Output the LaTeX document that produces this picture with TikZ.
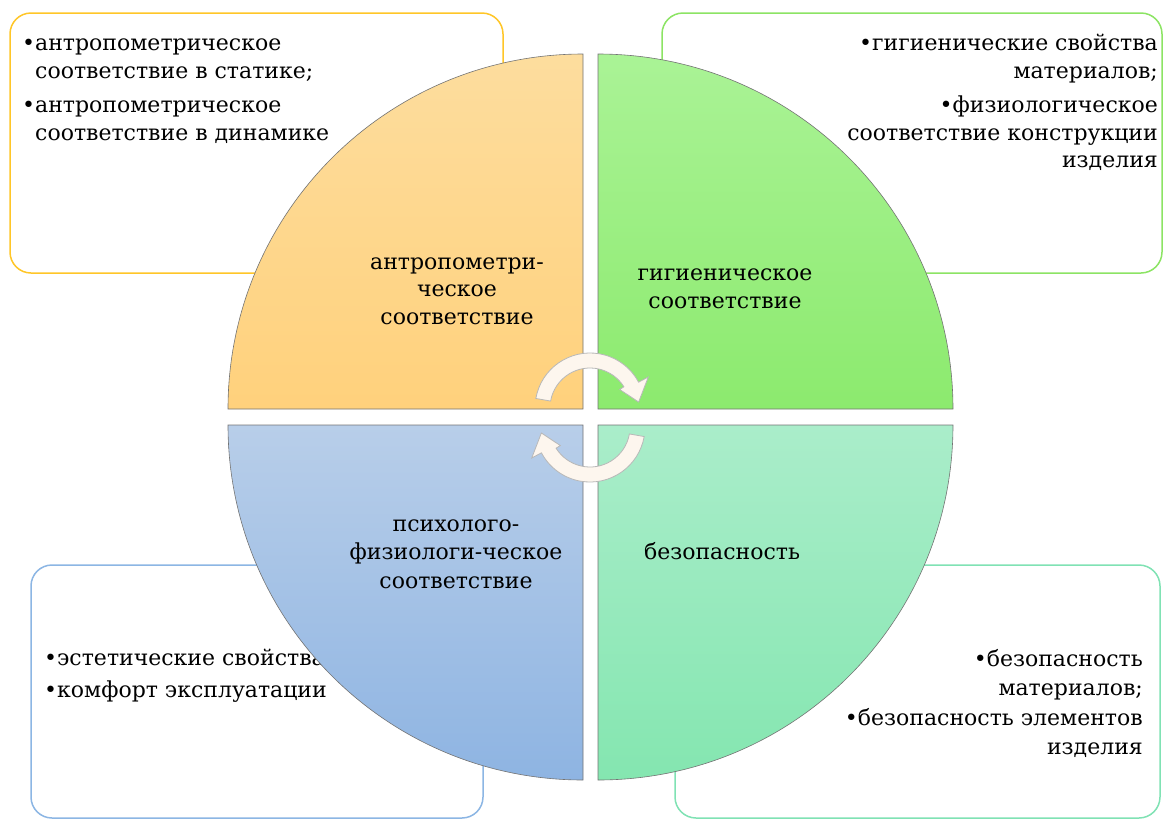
\documentclass[tikz,border=0pt]{standalone}
\usepackage{fontspec}
\setmainfont{DejaVu Serif}
\newfontfamily\ruserif{DejaVu Serif}
\definecolor{orT}{RGB}{253,221,158}
\definecolor{orB}{RGB}{255,209,124}
\definecolor{grT}{RGB}{170,243,150}
\definecolor{grB}{RGB}{140,234,110}
\definecolor{blT}{RGB}{184,206,233}
\definecolor{blB}{RGB}{142,180,226}
\definecolor{mnT}{RGB}{170,237,202}
\definecolor{mnB}{RGB}{132,230,176}
\definecolor{yelE}{RGB}{255,198,40}
\definecolor{grnE}{RGB}{140,228,100}
\definecolor{bluE}{RGB}{140,182,228}
\definecolor{mntE}{RGB}{128,226,180}
\definecolor{arrF}{RGB}{253,246,238}
\begin{document}
\begin{tikzpicture}[x=1pt,y=-1pt,
  txt/.style={inner sep=0pt, font=\ruserif\fontsize{22}{26}\selectfont},
  lbox/.style={rounded corners=21pt, line width=1.5pt, fill=white},
  quad/.style={draw=black!55, line width=0.6pt},
  carrow/.style={fill=arrF, draw=black!28, line width=0.8pt}]
\useasboundingbox (0,0) rectangle (1163,820);

% outer boxes
\draw[lbox, draw=yelE] (10,13) rectangle (503,273);
\draw[lbox, draw=grnE] (662,13) rectangle (1162,273);
\draw[lbox, draw=bluE] (31,565) rectangle (483,818);
\draw[lbox, draw=mntE] (675,565) rectangle (1160,818);

% box texts
\node[txt, anchor=base west] (tl1) at (22,50) {•антропометрическое};
\node[txt, anchor=base west] (tl2) at (35,78) {соответствие в статике;};
\node[txt, anchor=base west] (tl3) at (22,112) {•антропометрическое};
\node[txt, anchor=base west] (tl4) at (35,140) {соответствие в динамике};

\node[txt, anchor=base east] (tr1) at (1158,50) {•гигиенические свойства};
\node[txt, anchor=base east] (tr2) at (1158,78) {материалов;};
\node[txt, anchor=base east] (tr3) at (1158,112) {•физиологическое};
\node[txt, anchor=base east] (tr4) at (1158,140) {соответствие конструкции};
\node[txt, anchor=base east] (tr5) at (1158,167) {изделия};

\node[txt, anchor=base west] (bl1) at (44,665) {•эстетические свойства};
\node[txt, anchor=base west] (bl2) at (44,697) {•комфорт эксплуатации};

\node[txt, anchor=base east] (br1) at (1143,666) {•безопасность};
\node[txt, anchor=base east] (br2) at (1143,695) {материалов;};
\node[txt, anchor=base east] (br3) at (1143,725) {•безопасность элементов};
\node[txt, anchor=base east] (br4) at (1143,754) {изделия};

% quadrants
\path[quad, top color=orT, bottom color=orB] (583,409) -- (228,409) arc[start angle=180, end angle=270, radius=355] -- cycle;
\path[quad, top color=grT, bottom color=grB] (598,409) -- (598,54) arc[start angle=270, end angle=360, radius=355] -- cycle;
\path[quad, top color=blT, bottom color=blB] (583,425) -- (583,780) arc[start angle=90, end angle=180, radius=355] -- cycle;
\path[quad, top color=mnT, bottom color=mnB] (598,425) -- (953,425) arc[start angle=0, end angle=90, radius=355] -- cycle;

% quadrant labels
\node[txt, anchor=base] (q1a) at (457,269) {антропометри-};
\node[txt, anchor=base] (q1b) at (457,296) {ческое};
\node[txt, anchor=base] (q1c) at (457,324) {соответствие};
\node[txt, anchor=base] (q2a) at (725,280) {гигиеническое};
\node[txt, anchor=base] (q2b) at (725,308) {соответствие};
\node[txt, anchor=base] (q3a) at (456,531) {психолого-};
\node[txt, anchor=base] (q3b) at (456,559) {физиологи-ческое};
\node[txt, anchor=base] (q3c) at (456,588) {соответствие};
\node[txt, anchor=base] (q4a) at (722,559) {безопасность};

% circular arrows
\begin{scope}[shift={(590,408)}]
\path[carrow] (190:55) arc[start angle=190, end angle=332, radius=55] -- (332:66) -- (353:49) -- (328:35) -- (328:40) arc[start angle=328, end angle=190, radius=40] -- cycle;
\end{scope}
\begin{scope}[shift={(590,427)}, rotate=180]
\path[carrow] (190:55) arc[start angle=190, end angle=332, radius=55] -- (332:66) -- (353:49) -- (328:35) -- (328:40) arc[start angle=328, end angle=190, radius=40] -- cycle;
\end{scope}
\end{tikzpicture}
\end{document}
